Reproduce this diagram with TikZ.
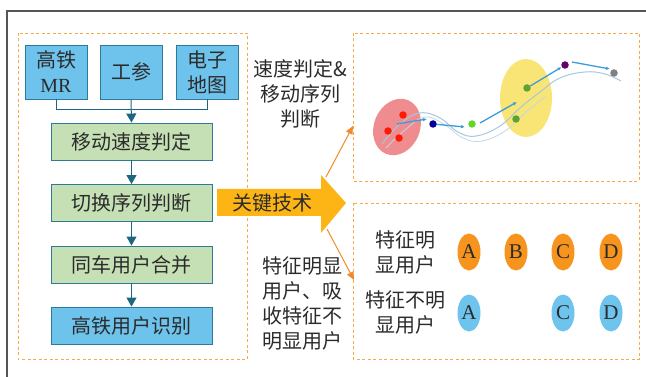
\documentclass[tikz,border=0pt]{standalone}
\usepackage{fontspec}
\newfontfamily\cjk{Noto Sans CJK SC}
\newfontfamily\lat{Liberation Serif}
\usetikzlibrary{arrows.meta,shapes.geometric}
\definecolor{boxblue}{HTML}{6EC3EC}
\definecolor{boxgreen}{HTML}{C5E0B5}
\definecolor{boxedge}{HTML}{2E7A98}
\definecolor{flowarrow}{HTML}{1D6880}
\definecolor{dashorange}{HTML}{F9A945}
\definecolor{bigarrow}{HTML}{FDB515}
\definecolor{thinorange}{HTML}{F08A2A}
\definecolor{txt}{HTML}{2B2B2B}
\definecolor{ellorange}{HTML}{F7941E}
\definecolor{ellblue}{HTML}{6FC4EE}
\definecolor{framegray}{HTML}{555555}
\definecolor{redell}{HTML}{EE8C90}
\definecolor{yellowell}{HTML}{F8E576}
\definecolor{trackblue}{HTML}{3C9BD8}
\definecolor{trackfaint}{HTML}{A7C7DE}
\tikzset{
  cjktext/.style={text=txt, font=\cjk\fontsize{20}{25}\selectfont, align=center, inner sep=0pt},
  bluebox/.style={draw=boxedge, fill=boxblue, line width=0.9pt, cjktext, minimum width=62pt, minimum height=54pt},
  greenbox/.style={draw=boxedge, fill=boxgreen, line width=0.9pt, cjktext, minimum width=161pt, minimum height=37pt},
  idbox/.style={draw=boxedge, fill=boxblue, line width=0.9pt, cjktext, minimum width=161pt, minimum height=37pt},
  dashbox/.style={draw=dashorange, line width=0.9pt, dash pattern=on 3pt off 2.5pt},
  flow/.style={draw=flowarrow, line width=1pt, -{Triangle[length=9pt,width=10pt]}},
  thinarrow/.style={draw=thinorange, line width=1pt, -{Triangle[length=8pt,width=7pt]}},
  userell/.style={ellipse, minimum width=23pt, minimum height=37pt, inner sep=0pt, text=txt, font=\lat\fontsize{21}{21}\selectfont},
  track/.style={draw=trackblue, line width=1.3pt, -{Latex[length=4pt,width=3.5pt]}},
  dot/.style={circle, inner sep=0pt, minimum size=7.5pt}
}
\begin{document}
\begin{tikzpicture}[x=1pt, y=-1pt]
\useasboundingbox (0,0) rectangle (646,377);
% outer frame
\draw[framegray, line width=1.3pt] (7,377) -- (7,11) -- (646,11);
% dashed boxes
\draw[dashbox] (18,33) rectangle (247,359);
\draw[dashbox] (353,33) rectangle (639,181);
\draw[dashbox] (353,203) rectangle (639,359);
% source boxes
\node[bluebox] (b1) at (56,72) {高铁\\{\lat MR}};
\node[bluebox] (b2) at (131,72) {工参};
\node[bluebox] (b3) at (207,72) {电子\\地图};
% flow boxes
\node[greenbox] (g1) at (131.5,141.5) {移动速度判定};
\node[greenbox] (g2) at (131.5,203) {切换序列判断};
\node[greenbox] (g3) at (131.5,264.5) {同车用户合并};
\node[idbox] (g4) at (131.5,325.5) {高铁用户识别};
\draw[flowarrow, line width=1pt] (b1.south) -- ++(0,10) -| (b3.south);
\draw[flow] (b2.south) -- (g1.north);
\draw[flow] (g1.south) -- (g2.north);
\draw[flow] (g2.south) -- (g3.north);
\draw[flow] (g3.south) -- (g4.north);
% big arrow
\fill[bigarrow] (217,189) -- (321,189) -- (321,175) -- (346,203) -- (321,233) -- (321,216) -- (217,216) -- cycle;
\node[cjktext] (key) at (272,203) {关键技术};
\coordinate (au) at (326,177);
\coordinate (ad) at (327,229);
\coordinate (tu) at (353,126);
\coordinate (td) at (354,280);
\draw[thinarrow] (au) -- (tu);
\draw[thinarrow] (ad) -- (td);
% middle labels
\node[cjktext] (l1) at (300,94) {速度判定\&\\移动序列\\判断};
\node[cjktext] (l2) at (302,303.5) {特征明显\\用户、吸\\收特征不\\明显用户};
% scene in top-right box
\fill[redell] (397,127) ellipse [x radius=23pt, y radius=29pt, rotate=-22];
\fill[yellowell] (526,98) ellipse [x radius=26pt, y radius=39pt];
\draw[trackfaint, line width=1pt] plot[smooth, tension=0.7] coordinates {(382,144) (400,124) (420,113) (440,118) (458,132) (476,136) (500,126) (520,108) (540,92) (560,78) (585,72) (605,74) (621,81)};
\draw[trackfaint!70, line width=0.8pt] plot[smooth, tension=0.7] coordinates {(386,148) (405,130) (425,117) (445,125) (463,138) (482,141) (505,131) (525,113) (545,97)};
\node[dot, fill=red!80!orange] (r1) at (403,115) {};
\node[dot, fill=red!80!orange] (r2) at (388,131) {};
\node[dot, fill=red!80!orange] (r3) at (399,138) {};
\node[dot, fill=blue!60!black] (p1) at (433,124) {};
\node[dot, fill=green!55!lime!70!gray] (p2) at (472,124) {};
\node[dot, fill=green!45!olive!60!gray] (y1) at (527,88) {};
\node[dot, fill=green!45!olive!60!gray] (y2) at (516,119) {};
\node[dot, fill=violet!80!black] (p3) at (565,65) {};
\node[dot, fill=gray] (p4) at (614,73) {};
\draw[track] (397,124) -- (427,119);
\draw[track] (p1) -- (465,127);
\draw[track] (480,123) -- (517,102);
\draw[track] (y1) -- (p3);
\draw[track] (572,62) -- (610,69);
% user rows
\node[cjktext] (t1) at (405,252.5) {特征明\\显用户};
\node[cjktext] (t2) at (405,312.5) {特征不明\\显用户};
\node[userell, fill=ellorange] (oa) at (469,252) {A};
\node[userell, fill=ellorange] (ob) at (516,252) {B};
\node[userell, fill=ellorange] (oc) at (563,252) {C};
\node[userell, fill=ellorange] (od) at (611,252) {D};
\node[userell, fill=ellblue] (ba) at (469,313) {A};
\node[userell, fill=ellblue] (bc) at (563,313) {C};
\node[userell, fill=ellblue] (bd) at (611,313) {D};
\end{tikzpicture}
\end{document}
